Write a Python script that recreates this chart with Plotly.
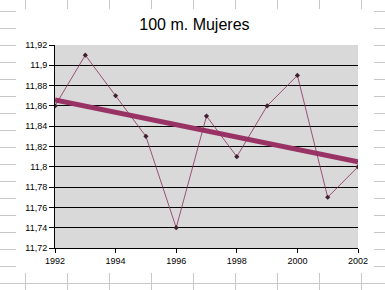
import numpy as np
import plotly.graph_objects as go

years = [1992, 1993, 1994, 1995, 1996, 1997, 1998, 1999, 2000, 2001, 2002]
times = [11.86, 11.91, 11.87, 11.83, 11.74, 11.85, 11.81, 11.86, 11.89, 11.77, 11.80]
title = "100 m. Mujeres"
y_ticks = [11.72, 11.74, 11.76, 11.78, 11.80, 11.82, 11.84, 11.86, 11.88, 11.90, 11.92]
y_labels = ["11,72", "11,74", "11,76", "11,78", "11,8", "11,82", "11,84", "11,86", "11,88", "11,9", "11,92"]
x_ticks = [1992, 1994, 1996, 1998, 2000, 2002]

W, H = 385, 290
ML, MR, MT, MB = 55, 27, 45, 42
PW, PH = W - ML - MR, H - MT - MB

def px_x(p):
    return (p - ML) / PW

def px_y(p):
    return 1 - (p - MT) / PH

slope, intercept = np.polyfit(years, times, 1)
trend_x = [years[0], years[-1]]
trend_y = [slope * x + intercept for x in trend_x]

fig = go.Figure()
fig.add_trace(go.Scatter(x=trend_x, y=trend_y, mode="lines",
                         line=dict(color="#993366", width=5), hoverinfo="skip"))
fig.add_trace(go.Scatter(x=years, y=times, mode="lines+markers",
                         line=dict(color="#8a2d5c", width=0.8),
                         marker=dict(symbol="diamond", size=4, color="#402030")))

# spreadsheet cell grid visible around the chart object
shapes = []
grid_col = "#c8c8c8"
cl, cr, ct, cb = 16, 374, 9, 273  # chart object edges in px
def seg(x0, x1, y0, y1):
    shapes.append(dict(type="line", xref="paper", yref="paper", layer="above",
                       x0=px_x(x0), x1=px_x(x1), y0=px_y(y0), y1=px_y(y1),
                       line=dict(color=grid_col, width=1)))
for gx in range(25, W, 42):
    seg(gx + 0.5, gx + 0.5, 0, ct)
    seg(gx + 0.5, gx + 0.5, cb, H)
for gy in range(11, H, 17):
    if ct < gy < cb:
        seg(0, cl, gy + 0.5, gy + 0.5)
        seg(cr, W, gy + 0.5, gy + 0.5)
    else:
        seg(0, W, gy + 0.5, gy + 0.5)

fig.update_layout(
    width=W, height=H,
    margin=dict(l=ML, r=MR, t=MT, b=MB),
    paper_bgcolor="white", plot_bgcolor="#d9d9d9",
    showlegend=False,
    font=dict(family="Liberation Sans, Arial, sans-serif", size=9, color="black"),
    title=dict(text=title, x=0.505, xanchor="center", y=1 - 24 / H, yanchor="middle",
               font=dict(size=16, color="black")),
    shapes=shapes,
    xaxis=dict(range=[1992, 2002], tickvals=x_ticks, ticks="outside", ticklen=4,
               tickcolor="black", showline=True, linecolor="black", linewidth=1,
               showgrid=False, zeroline=False, fixedrange=True),
    yaxis=dict(range=[11.72, 11.92], tickvals=y_ticks, ticktext=y_labels,
               ticks="outside", ticklen=5, tickcolor="black", showline=True,
               linecolor="black", linewidth=1, showgrid=True, gridcolor="black",
               gridwidth=1, zeroline=False, fixedrange=True),
)

fig.write_html("out.html")
